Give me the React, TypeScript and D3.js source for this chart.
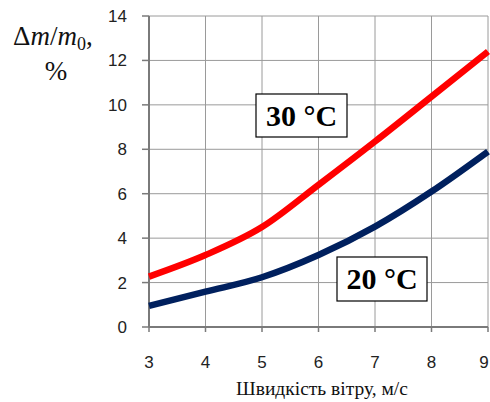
import * as d3 from 'd3';

const speeds = [3, 4, 5, 6, 7, 8, 9];
const loss30 = [2.27, 3.24, 4.5, 6.4, 8.35, 10.37, 12.4];
const loss20 = [0.95, 1.59, 2.24, 3.24, 4.52, 6.1, 7.9];
const yTicks = [0, 2, 4, 6, 8, 10, 12, 14];
const xTicks = [3, 4, 5, 6, 7, 8, 9];

const W = 490;
const H = 402;
const margin = { top: 16, right: 2, bottom: 75, left: 149 };

export default function App() {
  const x = d3.scaleLinear().domain([3, 9]).range([margin.left, W - margin.right]);
  const y = d3.scaleLinear().domain([0, 14]).range([H - margin.bottom, margin.top]);

  const line = d3
    .line<number>()
    .x((_, i) => x(speeds[i]))
    .y((d) => y(d))
    .curve(d3.curveMonotoneX);

  const grid = '#9a9a9a';

  return (
    <svg width={W} height={H} style={{ position: 'absolute', left: 0, top: 0, background: '#fff' }}>
      {/* grid */}
      {yTicks.map((t) => (
        <line key={'gy' + t} x1={x(3)} x2={x(9)} y1={y(t)} y2={y(t)} stroke={grid} strokeWidth={1} />
      ))}
      {xTicks.map((t) => (
        <line key={'gx' + t} x1={x(t)} x2={x(t)} y1={y(0)} y2={y(14)} stroke={grid} strokeWidth={1} />
      ))}
      {/* axes */}
      <line x1={x(3)} x2={x(3)} y1={y(0)} y2={y(14)} stroke="#7a7a7a" strokeWidth={2} />
      <line x1={x(3)} x2={x(9)} y1={y(0)} y2={y(0)} stroke="#7a7a7a" strokeWidth={2} />
      {yTicks.map((t) => (
        <g key={'ty' + t}>
          <line x1={x(3) - 7} x2={x(3)} y1={y(t)} y2={y(t)} stroke="#7a7a7a" strokeWidth={1.5} />
          <text x={127} y={y(t) + 6} textAnchor="end" fontFamily="Arial, 'Liberation Sans', sans-serif" fontSize={17} fill="#222">
            {t}
          </text>
        </g>
      ))}
      {xTicks.map((t) => (
        <g key={'tx' + t}>
          <line x1={x(t)} x2={x(t)} y1={y(0)} y2={y(0) + 5} stroke="#7a7a7a" strokeWidth={1.5} />
          <text x={Math.min(x(t), 484)} y={368} textAnchor="middle" fontFamily="Arial, 'Liberation Sans', sans-serif" fontSize={17} fill="#222">
            {t}
          </text>
        </g>
      ))}

      {/* series */}
      <path d={line(loss30) ?? ''} fill="none" stroke="#ff0000" strokeWidth={6.5} strokeLinecap="butt" />
      <path d={line(loss20) ?? ''} fill="none" stroke="#00205e" strokeWidth={6.5} strokeLinecap="butt" />

      {/* labels */}
      <rect x={256} y={94} width={91} height={43} fill="#fff" stroke="#000" strokeWidth={1.2} />
      <text x={301.5} y={126} textAnchor="middle" fontFamily="'Liberation Serif', 'Times New Roman', serif" fontWeight="bold" fontSize={30}>
        30 °C
      </text>
      <rect x={337} y={257} width={90} height={44} fill="#fff" stroke="#000" strokeWidth={1.2} />
      <text x={382} y={289} textAnchor="middle" fontFamily="'Liberation Serif', 'Times New Roman', serif" fontWeight="bold" fontSize={30}>
        20 °C
      </text>

      {/* axis titles */}
      <text x={13} y={45} fontFamily="'Liberation Serif', 'Times New Roman', serif" fontSize={27} fill="#111">
        Δ<tspan fontStyle="italic">m</tspan>/<tspan fontStyle="italic">m</tspan>
        <tspan fontSize={18} dy={5}>0</tspan>
        <tspan dy={-5}>,</tspan>
      </text>
      <text x={56} y={80} textAnchor="middle" fontFamily="'Liberation Serif', 'Times New Roman', serif" fontSize={27} fill="#111">
        %
      </text>
      <text x={322} y={395} textAnchor="middle" fontFamily="'Liberation Serif', 'Times New Roman', serif" fontSize={19.5} fill="#111">
        Швидкість вітру, м/с
      </text>
    </svg>
  );
}
